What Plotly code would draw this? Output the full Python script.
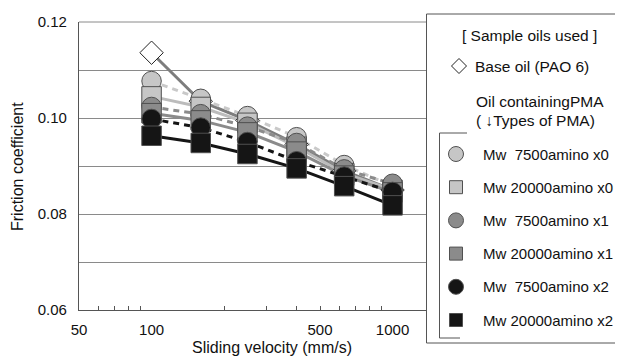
import math
import plotly.graph_objects as go

W, H = 623, 356
OFF = 8  # page body margin of the html page

# ---- data ----
velocity = [100, 160, 250, 400, 630, 1000]
base_oil = [0.1136, 0.1035, 0.0995, 0.0945, 0.0890, 0.0850]
mw7500_x0 = [0.1077, 0.1040, 0.1004, 0.0960, 0.0902, 0.0858]
mw20000_x0 = [0.1045, 0.1023, 0.0990, 0.0940, 0.0885, 0.0850]
mw7500_x1 = [0.1023, 0.1008, 0.0982, 0.0948, 0.0893, 0.0863]
mw20000_x1 = [0.1010, 0.0995, 0.0970, 0.0930, 0.0880, 0.0845]
mw7500_x2 = [0.0998, 0.0980, 0.0950, 0.0910, 0.0878, 0.0846]
mw20000_x2 = [0.0963, 0.0948, 0.0925, 0.0895, 0.0858, 0.0818]

series_names = ["Mw\u00a0\u00a07500amino x0", "Mw 20000amino x0",
                "Mw\u00a0\u00a07500amino x1", "Mw 20000amino x1",
                "Mw\u00a0\u00a07500amino x2", "Mw 20000amino x2"]
series_values = [mw7500_x0, mw20000_x0, mw7500_x1, mw20000_x1, mw7500_x2, mw20000_x2]

x_tick_vals = [50, 100, 500, 1000]
x_tick_text = ["50", "100", "500", "1000"]
x_minor_vals = [60, 70, 80, 90, 200, 300, 400, 500, 600, 700, 800, 900]
x_major_marks = [100, 1000]
y_tick_vals = [0.06, 0.07, 0.08, 0.09, 0.10, 0.11, 0.12]
y_tick_text = ["0.06", "", "0.08", "", "0.10", "", "0.12"]

# ---- styles ----
LIGHT, MID, DARK = "#c6c6c6", "#8b8b8b", "#151515"
fills = [LIGHT, LIGHT, MID, MID, DARK, DARK]
line_cols = ["#c9c9c9", "#bcbcbc", "#8b8b8b", "#8b8b8b", "#151515", "#151515"]
symbols = ["circle", "square", "circle", "square", "circle", "square"]
dashes = ["6px,5px", "solid", "6px,5px", "solid", "6px,5px", "solid"]
FONT = "Liberation Sans, Arial, Helvetica, sans-serif"

# plot area in page pixels
PL, PR, PT, PB = 79, 426, 22, 310


def px(x):
    return (x - OFF) / W


def py(y):
    return 1 - (y - OFF) / H


fig = go.Figure()

# lines first (under all markers)
fig.add_trace(go.Scatter(x=velocity, y=base_oil, mode="lines",
                         line=dict(color="#7d7d7d", width=3), showlegend=False))
for vals, col, dash in zip(series_values, line_cols, dashes):
    fig.add_trace(go.Scatter(x=velocity, y=vals, mode="lines",
                             line=dict(color=col, width=3, dash=dash),
                             showlegend=False))
# markers
fig.add_trace(go.Scatter(x=velocity, y=base_oil, mode="markers",
                         marker=dict(symbol="diamond", size=18, color="white",
                                     line=dict(color="#222", width=1)),
                         showlegend=False))
for vals, fc, sym, name in zip(series_values, fills, symbols, series_names):
    fig.add_trace(go.Scatter(x=velocity, y=vals, mode="markers", name=name,
                             marker=dict(symbol=sym, size=19.5, color=fc,
                                         line=dict(color="#505050", width=1)),
                             showlegend=False))

xr = [math.log10(50), math.log10(50) + (PR - PL) / 241.0]

fig.update_layout(
    template="none",
    width=W, height=H,
    margin=dict(l=0, r=0, t=0, b=0, pad=0),
    paper_bgcolor="white", plot_bgcolor="white",
    font=dict(family=FONT, size=15, color="#111"),
    showlegend=False,
    xaxis=dict(type="log", range=xr, domain=[px(PL), px(PR)], automargin=False,
               tickmode="array", tickvals=x_tick_vals, ticktext=x_tick_text,
               ticks="", showgrid=False, zeroline=False,
               showline=True, linecolor="#555", linewidth=1.2,
               tickfont=dict(size=15), ticklabelstandoff=6,
               minor=dict(tickmode="array", tickvals=x_minor_vals,
                          ticks="inside", ticklen=4, tickcolor="#555",
                          tickwidth=1, showgrid=False)),
    xaxis2=dict(type="log", range=xr, domain=[px(PL), px(PR)], automargin=False,
                overlaying="x", anchor="y", side="bottom",
                tickmode="array", tickvals=x_major_marks,
                ticks="inside", ticklen=7, tickcolor="#555", tickwidth=1,
                showticklabels=False, showgrid=False, zeroline=False,
                showline=False),
    yaxis=dict(range=[0.06, 0.12], domain=[py(PB), py(PT)], automargin=False,
               tickmode="array", tickvals=y_tick_vals, ticktext=y_tick_text,
               ticks="", showgrid=True, gridcolor="#8a8a8a", gridwidth=1,
               zeroline=False, showline=True, linecolor="#555", linewidth=1.2,
               tickfont=dict(size=15), ticklabelstandoff=8),
)

shapes = []
# top border line at 0.12
shapes.append(dict(type="line", xref="paper", yref="paper",
                   x0=px(PL), x1=px(PR), y0=py(PT), y1=py(PT),
                   line=dict(color="#8a8a8a", width=1)))
# legend outer box
shapes.append(dict(type="rect", xref="paper", yref="paper",
                   x0=px(426.5), x1=px(640), y0=py(343), y1=py(14),
                   line=dict(color="#555", width=1), fillcolor="white",
                   layer="above"))
# inner bracket
shapes.append(dict(type="path", xref="paper", yref="paper",
                   path=f"M {px(467)},{py(133)} L {px(439.5)},{py(133)} "
                        f"L {px(439.5)},{py(338)} L {px(460)},{py(338)}",
                   line=dict(color="#555", width=1), layer="above"))
# base oil diamond symbol
dx, dy = 459, 66
r = 7.5
shapes.append(dict(type="path", xref="paper", yref="paper",
                   path=f"M {px(dx - r)},{py(dy)} L {px(dx)},{py(dy - r)} "
                        f"L {px(dx + r)},{py(dy)} L {px(dx)},{py(dy + r)} Z",
                   line=dict(color="#222", width=1), fillcolor="white",
                   layer="above"))

annotations = []
row0, step = 154, 33.2
sx = 456
for i, (name, fc, sym) in enumerate(zip(series_names, fills, symbols)):
    yy = row0 + i * step
    if sym == "circle":
        rr = 7.5
        shapes.append(dict(type="circle", xref="paper", yref="paper",
                           x0=px(sx - rr), x1=px(sx + rr), y0=py(yy + rr), y1=py(yy - rr),
                           fillcolor=fc, line=dict(color="#505050", width=1),
                           layer="above"))
    else:
        rr = 6.5
        shapes.append(dict(type="rect", xref="paper", yref="paper",
                           x0=px(sx - rr), x1=px(sx + rr), y0=py(yy + rr), y1=py(yy - rr),
                           fillcolor=fc, line=dict(color="#505050", width=1),
                           layer="above"))
    annotations.append(dict(text=name, x=px(481), y=py(yy), xref="paper", yref="paper",
                            xanchor="left", yanchor="middle", showarrow=False,
                            font=dict(size=15, family=FONT, color="#111")))

annotations += [
    dict(text="[ Sample oils used ]", x=px(460), y=py(36), xanchor="left"),
    dict(text="Base oil (PAO 6)", x=px(473), y=py(66), xanchor="left"),
    dict(text="Oil containingPMA", x=px(474), y=py(101), xanchor="left"),
    dict(text="( \u2193Types of PMA)", x=px(474), y=py(120), xanchor="left"),
]
for a in annotations[-4:]:
    a.update(xref="paper", yref="paper", yanchor="middle", showarrow=False,
             font=dict(size=15.5, family=FONT, color="#111"))

# axis titles
annotations.append(dict(text="Sliding velocity (mm/s)", x=px(272), y=py(347),
                        xref="paper", yref="paper", xanchor="center", yanchor="middle",
                        showarrow=False, font=dict(size=16, family=FONT, color="#111")))
annotations.append(dict(text="Friction coefficient", x=px(18), y=py(167),
                        xref="paper", yref="paper", xanchor="center", yanchor="middle",
                        textangle=-90, showarrow=False,
                        font=dict(size=16, family=FONT, color="#111")))

fig.update_layout(shapes=shapes, annotations=annotations)
fig.write_html("out.html")
